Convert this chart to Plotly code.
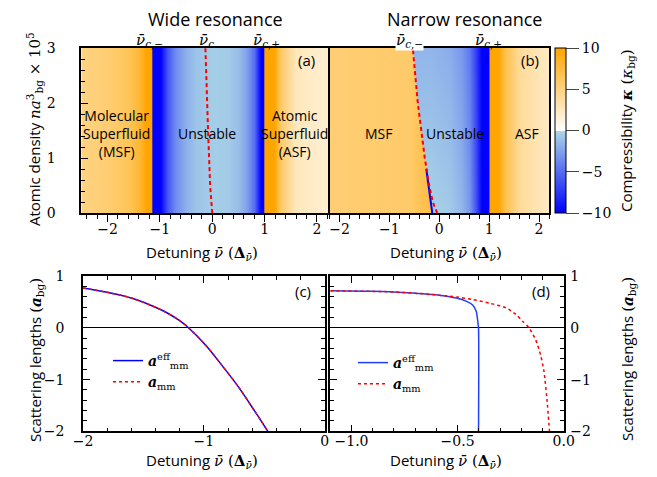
import plotly.graph_objects as go

W, H = 657, 477
SANS = "Open Sans"
SERIF = "DejaVu Serif"
NU = "\u03bd\u0304"  # nu with macron

# ---------------- data ----------------
# colour scale for compressibility kappa (kappa_bg)
kappa_colorscale = [[0.0, "rgb(0,0,255)"], [0.5, "rgb(173,216,230)"],
                    [0.5, "rgb(255,255,255)"], [1.0, "rgb(255,165,0)"]]

# panel (a) wide resonance: kappa vs detuning (same at every density)
a_detuning = [-2.6, -2.0, -1.6, -1.4, -1.25, -1.141, -1.139, -1.0, -0.85, -0.7, -0.5, -0.3,
              0.0, 0.3, 0.5, 0.65, 0.8, 0.9, 0.999, 1.001, 1.18, 1.3, 1.58, 2.3]
a_kappa = [4.8, 5.5, 6.5, 8.0, 10.0, 12.0, -12.0, -10.0, -6.0, -3.5, -1.8, -0.9,
           -0.5, -0.6, -1.2, -2.5, -5.0, -9.0, -12.0, 12.0, 10.0, 6.0, 2.6, 1.6]
a_density = [0, 3]
nuc_a_density = [0, 0.5, 1.5, 3]
nuc_a_detuning = [0.0, -0.04, -0.08, -0.13]

# panel (b) narrow resonance
b_detuning = [-2.3, -0.5, -0.15, 0.2, 0.45, 0.6, 0.72, 0.84, 0.999, 1.001, 1.18, 1.3, 1.6, 2.3]
b_kappa_low = [-0.3, -0.3, -0.3, -0.6, -1.5, -3.0, -6.0, -10.0, -12.0, 12.0, 10.0, 7.0, 4.0, 2.0]
b_kappa_high = [-1.6, -1.6, -1.6, -2.0, -3.0, -4.5, -7.0, -10.0, -12.0, 12.0, 10.0, 7.0, 4.0, 2.0]
b_density = [0, 3]
msf_b_density = [0, 1, 1.42, 2, 3]
msf_b_detuning = [-0.15, -0.28, -0.35, -0.43, -0.52]
msf_b_kappa = [5.4, 5.9, 7.5]          # left edge -> boundary
nucm_b_density = [0, 0.2, 0.5, 1, 2, 3]
nucm_b_detuning = [-0.04, -0.13, -0.2, -0.29, -0.43, -0.53]
edge_b_density = [0, 0.8]
edge_b_detuning = [-0.14, -0.26]

# panel (c) wide resonance scattering lengths
c_detuning = [-2.0, -1.8, -1.6, -1.45, -1.31, -1.2, -1.125, -0.99, -0.855, -0.717, -0.579, -0.465]
c_a_eff = [0.774, 0.69, 0.58, 0.45, 0.30, 0.14, 0.0, -0.32, -0.71, -1.13, -1.61, -2.02]
c_a_mm = [0.774, 0.69, 0.58, 0.45, 0.30, 0.14, 0.0, -0.32, -0.71, -1.13, -1.61, -2.02]

# panel (d) narrow resonance scattering lengths
d_detuning_eff = [-1.1, -0.9, -0.74, -0.58, -0.506, -0.46, -0.428, -0.412, -0.405, -0.4015, -0.4015]
d_a_eff = [0.72, 0.71, 0.68, 0.63, 0.58, 0.52, 0.44, 0.32, 0.13, 0.0, -2.05]
d_detuning_mm = [-1.1, -0.817, -0.66, -0.506, -0.428, -0.35, -0.272, -0.225, -0.194, -0.163,
                 -0.132, -0.109, -0.093, -0.078, -0.067]
d_a_mm = [0.72, 0.70, 0.66, 0.6, 0.55, 0.48, 0.39, 0.26, 0.13, 0.0, -0.23, -0.52, -0.84, -1.42, -2.0]


def kappa_color(k):
    """colour of kappa on the scale above (for the MSF polygon fill)"""
    t = max(-1.0, min(1.0, k / 10.0))
    if t >= 0:
        lo, hi = (255, 255, 255), (255, 165, 0)
    else:
        lo, hi, t = (173, 216, 230), (0, 0, 255), -t
    c = [round(lo[i] + (hi[i] - lo[i]) * t) for i in range(3)]
    return f"rgb({c[0]},{c[1]},{c[2]})"


# ---------------- figure ----------------
fig = go.Figure()

fig.add_trace(go.Heatmap(x=a_detuning, y=a_density, z=[a_kappa, a_kappa], coloraxis="coloraxis",
                         zsmooth="best", xaxis="x", yaxis="y", hoverinfo="skip"))
fig.add_trace(go.Scatter(x=nuc_a_detuning, y=nuc_a_density, mode="lines", xaxis="x", yaxis="y",
                         line=dict(color="#ff0000", width=2, dash="4px,3px"), showlegend=False))

fig.add_trace(go.Heatmap(x=b_detuning, y=b_density, z=[b_kappa_low, b_kappa_high], coloraxis="coloraxis",
                         zsmooth="best", xaxis="x2", yaxis="y2", hoverinfo="skip"))
msf_cols = [kappa_color(k) for k in msf_b_kappa]
poly_x = [-2.3] + msf_b_detuning + [-2.3]
poly_y = [msf_b_density[0]] + msf_b_density + [msf_b_density[-1]]
fig.add_trace(go.Scatter(x=poly_x, y=poly_y, mode="lines", fill="toself", xaxis="x2", yaxis="y2",
                         line=dict(width=0), showlegend=False, hoverinfo="skip",
                         fillgradient=dict(type="horizontal",
                                           colorscale=[[0, msf_cols[0]], [0.8, msf_cols[1]], [1, msf_cols[2]]])))
fig.add_trace(go.Scatter(x=edge_b_detuning, y=edge_b_density, mode="lines", xaxis="x2", yaxis="y2",
                         line=dict(color="#0000ff", width=2), showlegend=False))
fig.add_trace(go.Scatter(x=nucm_b_detuning, y=nucm_b_density, mode="lines", xaxis="x2", yaxis="y2",
                         line=dict(color="#ff0000", width=2, dash="4px,3px"), showlegend=False))

lab_eff = "<b><i>a</i></b><sup>eff</sup><sub>mm</sub>"
lab_mm = "<b><i>a</i></b><sub>mm</sub>"
fig.add_trace(go.Scatter(x=c_detuning, y=c_a_eff, mode="lines", xaxis="x3", yaxis="y3", name=lab_eff,
                         line=dict(color="#0000ff", width=1.5, shape="spline"), legend="legend"))
fig.add_trace(go.Scatter(x=c_detuning, y=c_a_mm, mode="lines", xaxis="x3", yaxis="y3", name=lab_mm,
                         line=dict(color="#ff0000", width=1.5, dash="dot", shape="spline"), legend="legend"))
fig.add_trace(go.Scatter(x=d_detuning_eff, y=d_a_eff, mode="lines", xaxis="x4", yaxis="y4", name=lab_eff,
                         line=dict(color="#1f3fff", width=1.5, shape="spline", smoothing=0.6), legend="legend2"))
fig.add_trace(go.Scatter(x=d_detuning_mm, y=d_a_mm, mode="lines", xaxis="x4", yaxis="y4", name=lab_mm,
                         line=dict(color="#ff0000", width=1.5, dash="dot", shape="spline", smoothing=0.6),
                         legend="legend2"))

tickfont = dict(family=SERIF, size=14, color="black")
frame = dict(showline=True, linecolor="black", linewidth=1.5, mirror=True, showgrid=False,
             zeroline=False, automargin=False, tickfont=tickfont, tickcolor="black", fixedrange=True)

def fx(p):
    return p / W

def fy(p):
    return 1 - p / H

top_dom = [fy(205), fy(40)]
bot_dom = [fy(423.3), fy(268.3)]

layout = dict(
    width=W, height=H, margin=dict(l=0, r=0, t=0, b=0),
    paper_bgcolor="white", plot_bgcolor="white",
    coloraxis=dict(colorscale=kappa_colorscale, cmin=-10, cmax=10,
                   colorbar=dict(x=fx(547), xanchor="left", y=fy(205), yanchor="bottom",
                                 len=(205 - 40) / H, lenmode="fraction", thickness=11,
                                 xpad=0, ypad=0, outlinewidth=1, outlinecolor="black",
                                 tickvals=[-10, -5, 0, 5, 10], ticks="outside", ticklen=13,
                                 tickcolor="#444", tickfont=tickfont)),
    xaxis=dict(frame, domain=[fx(73.3), fx(320.5)], range=[-2.5, 2.22], anchor="y",
               tickmode="linear", tick0=0, dtick=1, ticks="outside", ticklen=7,
               minor=dict(dtick=0.2, tick0=0, ticks="outside", ticklen=4, tickcolor="black"),
               ticklabelstandoff=-5),
    yaxis=dict(frame, domain=top_dom, range=[0, 3], anchor="x", tickmode="linear", tick0=0, dtick=1,
               ticks="inside", ticklen=7, minor=dict(dtick=0.2, tick0=0, ticks="inside", ticklen=4,
                                                    tickcolor="black"),
               ticklabelstandoff=21),
    xaxis2=dict(frame, domain=[fx(321.5), fx(541)], range=[-2.2, 2.2], anchor="y2",
                tickmode="linear", tick0=0, dtick=1, ticks="outside", ticklen=7,
                minor=dict(dtick=0.2, tick0=0, ticks="outside", ticklen=4, tickcolor="black"),
                ticklabelstandoff=-5),
    yaxis2=dict(frame, domain=top_dom, range=[0, 3], anchor="x2", showticklabels=False, ticks=""),
    xaxis3=dict(frame, domain=[fx(75), fx(316.7)], range=[-2, 0], anchor="y3", mirror="ticks",
                tickmode="linear", tick0=0, dtick=1, ticks="inside", ticklen=7,
                minor=dict(dtick=0.2, tick0=0, ticks="inside", ticklen=4, tickcolor="black"),
                ticklabelstandoff=-4),
    yaxis3=dict(frame, domain=bot_dom, range=[-2, 1], anchor="x3", mirror="ticks",
                tickmode="linear", tick0=0, dtick=1, ticks="inside", ticklen=7,
                minor=dict(dtick=0.2, tick0=0, ticks="inside", ticklen=4, tickcolor="black"),
                zeroline=True, zerolinecolor="black", zerolinewidth=1.2, ticklabelstandoff=14),
    xaxis4=dict(frame, domain=[fx(322.3), fx(555.7)], range=[-1.1, 0], anchor="y4", mirror="ticks",
                tickmode="linear", tick0=0, dtick=0.5, tickformat=".1f", ticks="inside", ticklen=7,
                minor=dict(dtick=0.1, tick0=0, ticks="inside", ticklen=4, tickcolor="black"),
                ticklabelstandoff=-4),
    yaxis4=dict(frame, domain=bot_dom, range=[-2, 1], anchor="x4", side="right", mirror="ticks",
                tickmode="linear", tick0=0, dtick=1, ticks="inside", ticklen=7,
                minor=dict(dtick=0.2, tick0=0, ticks="inside", ticklen=4, tickcolor="black"),
                zeroline=True, zerolinecolor="black", zerolinewidth=1.2, ticklabelstandoff=2),
    legend=dict(x=fx(100), y=fy(337), xanchor="left", yanchor="top", bgcolor="rgba(0,0,0,0)",
                font=dict(family=SERIF, size=14, color="black"), itemwidth=30, tracegroupgap=0),
    legend2=dict(x=fx(345), y=fy(339), xanchor="left", yanchor="top", bgcolor="rgba(0,0,0,0)",
                 font=dict(family=SERIF, size=14, color="black"), itemwidth=30, tracegroupgap=0),
)
fig.update_layout(**layout)

ann = []

def paper_text(text, x, y, size=15, family=SANS, angle=0, **kw):
    ann.append(dict(text=text, x=fx(x), y=fy(y), xref="paper", yref="paper", showarrow=False,
                    xanchor="center", yanchor="middle", textangle=angle,
                    font=dict(family=family, size=size, color="black"), **kw))

def data_text(text, x, y, xr, yr, size=15, family=SANS):
    ann.append(dict(text=text, x=x, y=y, xref=xr, yref=yr, showarrow=False, xanchor="center",
                    yanchor="middle", font=dict(family=family, size=size, color="black")))

def ser(t):
    return f'<span style="font-family:{SERIF}">{t}</span>'

paper_text("Wide resonance", 207.5, 11, size=18)
paper_text("Narrow resonance", 456.5, 11, size=18)

detuning_title = "Detuning " + ser(f"<i>{NU}</i> (<b>Δ</b><sub><i>{NU}</i></sub>)")
paper_text(detuning_title, 194, 244)
paper_text(detuning_title, 437.5, 244)
paper_text(detuning_title, 194, 452)
paper_text(detuning_title, 437.5, 452)

paper_text("Atomic density " + ser("<i>na</i><sup>3</sup><sub>bg</sub> × 10<sup>5</sup>"), 27, 121, angle=-90)
paper_text("Scattering lengths " + ser("(<b><i>a</i></b><sub>bg</sub>)"), 27, 352, angle=-90)
paper_text("Scattering lengths " + ser("(<b><i>a</i></b><sub>bg</sub>)"), 619, 351, angle=-90)
paper_text("Compressibility " + ser("<b><i>κ</i></b> (<i>κ</i><sub>bg</sub>)"), 619, 123, angle=-90)

paper_text("(a)", 298, 52)
paper_text("(b)", 521.7, 52)
paper_text("(c)", 295, 283)
paper_text("(d)", 533, 283)

# regions
data_text("Molecular<br>Superfluid<br>(MSF)", -1.82, 1.44, "x", "y", size=14)
data_text("Unstable", -0.1, 1.45, "x", "y", size=14)
data_text("Atomic<br>Superfluid<br>(ASF)", 1.58, 1.45, "x", "y", size=14)
data_text("MSF", -1.2, 1.45, "x2", "y2", size=14)
data_text("Unstable", 0.31, 1.45, "x2", "y2", size=14)
data_text("ASF", 1.76, 1.45, "x2", "y2", size=14)

# critical detunings above the top panels
nu_minus = f"<i>{NU}</i><sub><i>c</i>,−</sub>"
nu_plus = f"<i>{NU}</i><sub><i>c</i>,+</sub>"
nu_c = f"<i>{NU}</i><sub><i>c</i></sub>"
for txt, xv, xr, bg in [(nu_minus, -1.19, "x", None), (nu_c, -0.1, "x", None), (nu_plus, 1.03, "x", None),
                         (nu_minus, -0.59, "x2", "white"), (nu_plus, 0.98, "x2", None)]:
    d = dict(text=txt, x=xv, y=fy(32), xref=xr, yref="paper", showarrow=False, xanchor="center",
             yanchor="middle", font=dict(family=SERIF, size=15, color="black"), borderpad=0)
    if bg:
        d["bgcolor"] = bg
    ann.append(d)

fig.update_layout(annotations=ann)
fig.write_html("out.html")
